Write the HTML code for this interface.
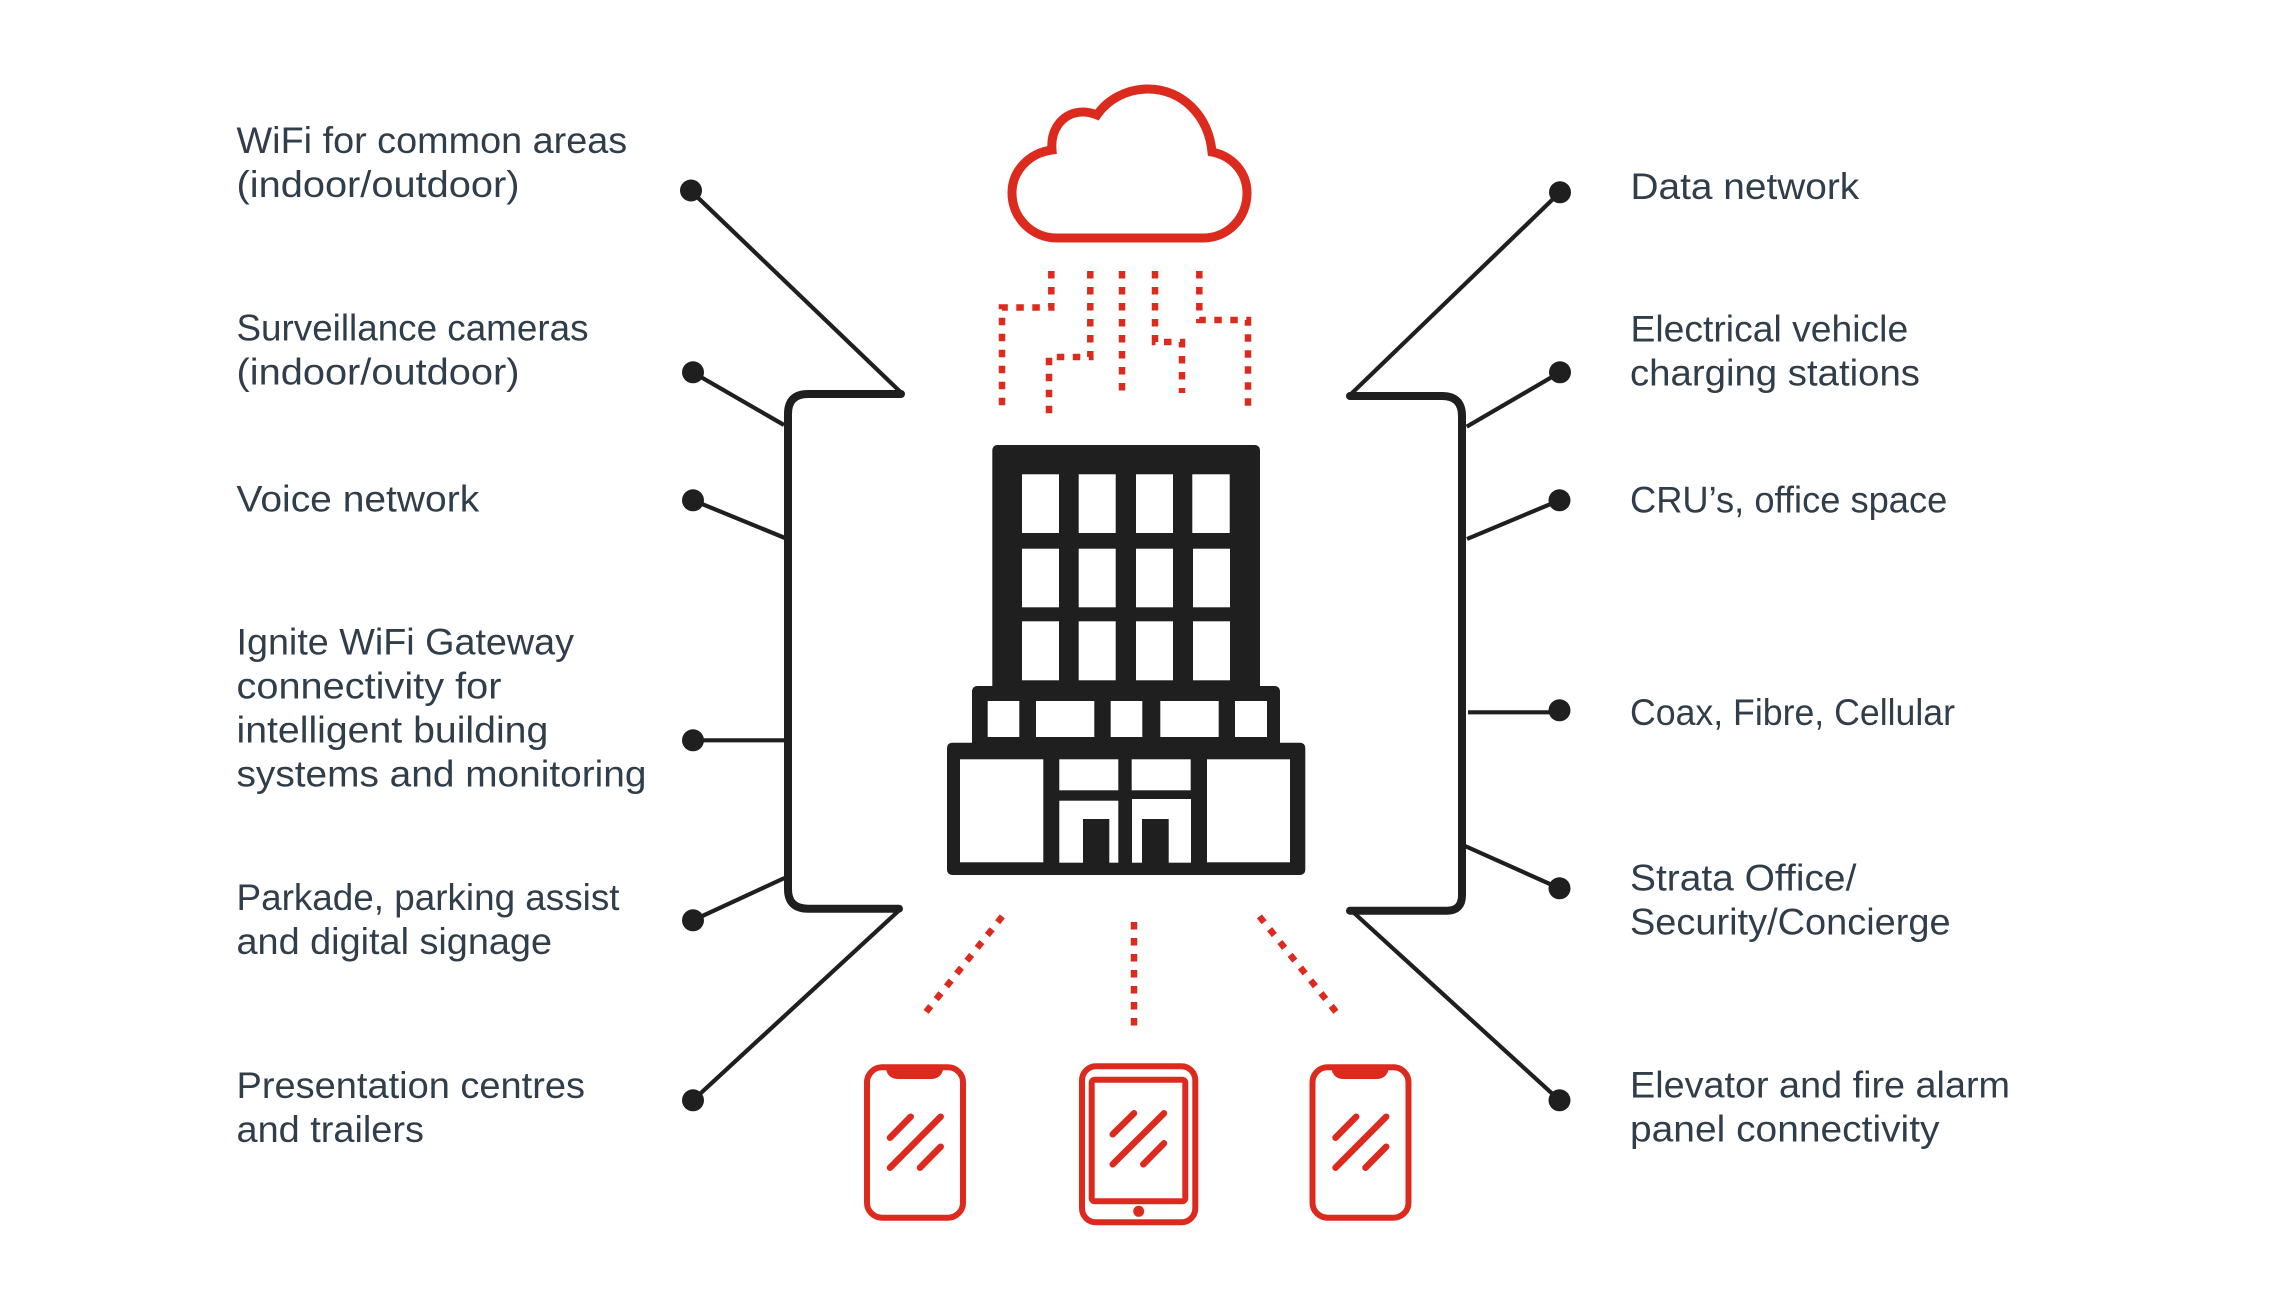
<!DOCTYPE html>
<html lang="en">
<head>
<meta charset="utf-8">
<title>Building connectivity diagram</title>
<style>
html,body{margin:0;padding:0;background:#fff}
svg{display:block}
text{font-family:"Liberation Sans",Arial,sans-serif;font-size:37px;fill:#2f3e4a}
.dot{fill:none;stroke:#dc2a1f;stroke-width:6.5;stroke-dasharray:7.5 8.5}
.k{stroke:#1f1f1f;stroke-width:4.2;fill:none}
.br{stroke:#1f1f1f;stroke-width:8;fill:none;stroke-linecap:round}
.r{fill:none;stroke:#dc2a1f;stroke-width:6}
.g{stroke:#dc2a1f;stroke-width:6.5;stroke-linecap:round;fill:none}
</style>
</head>
<body>
<svg width="2280" height="1308" viewBox="0 0 2280 1308" xmlns="http://www.w3.org/2000/svg">
<rect width="2280" height="1308" fill="#fff"/>

<!-- Cloud -->
<path d="M1057 238H1203C1228 238 1247 218 1247 193C1247 172 1232 156 1212 152C1209 116 1182 89 1148 89C1127 89 1108 99 1097 115C1092 113 1088 112 1083 112C1064 112 1050 128 1052 150C1029 153 1012 171 1012 193C1012 218 1032 238 1057 238Z" fill="none" stroke="#dc2a1f" stroke-width="9"/>

<!-- Cloud dotted links -->
<path class="dot" d="M1051.3 271V307.5H1002V406"/>
<path class="dot" d="M1090.3 271V357H1049V414"/>
<path class="dot" d="M1122 271V391"/>
<path class="dot" d="M1155 271V342H1182V393"/>
<path class="dot" d="M1199.3 271V320H1248V406"/>

<!-- Device dotted links -->
<path class="dot" style="stroke-dasharray:7.5 8.9" d="M1002.3 916.4L926.1 1011.9"/>
<path class="dot" d="M1134 922V1027"/>
<path class="dot" style="stroke-dasharray:7.5 8.9" d="M1259.4 916.4L1336 1011.9"/>

<!-- Building -->
<g fill="#1f1f1f">
<rect x="992.3" y="445" width="267.7" height="250" rx="5"/>
<rect x="972" y="686" width="308" height="70" rx="5"/>
<rect x="947" y="742.7" width="358.3" height="132.3" rx="5"/>
</g>
<g fill="#fff">
<rect x="1022" y="474.3" width="37" height="58.7"/><rect x="1078.7" y="474.3" width="37" height="58.7"/><rect x="1136" y="474.3" width="37" height="58.7"/><rect x="1192.3" y="474.3" width="37.4" height="58.7"/>
<rect x="1022" y="548.7" width="37" height="58.6"/><rect x="1078.7" y="548.7" width="37" height="58.6"/><rect x="1136" y="548.7" width="37" height="58.6"/><rect x="1193" y="548.7" width="37" height="58.6"/>
<rect x="1022" y="621.3" width="37" height="59"/><rect x="1078.7" y="621.3" width="37" height="59"/><rect x="1136" y="621.3" width="37" height="59"/><rect x="1193" y="621.3" width="37" height="59"/>
<rect x="987.7" y="701" width="31.6" height="36"/><rect x="1036" y="701" width="58.3" height="36"/><rect x="1110.7" y="701" width="31.6" height="36"/><rect x="1160.3" y="701" width="58.4" height="36"/><rect x="1235" y="701" width="32" height="36"/>
<rect x="960" y="759.3" width="83.3" height="103"/><rect x="1207" y="759.3" width="83" height="103"/>
<rect x="1059.3" y="759.3" width="59" height="31"/><rect x="1131.7" y="759.3" width="59" height="31"/>
<rect x="1059.3" y="800.7" width="59" height="62"/><rect x="1132" y="799" width="59" height="63.7"/>
</g>
<g fill="#1f1f1f">
<rect x="1083" y="819" width="26.3" height="44"/><rect x="1142" y="819" width="26.7" height="44"/>
</g>

<!-- Bracket outline -->
<path class="br" d="M901 394H808Q788 394 788 414V889Q788 908.7 808 908.7H899"/>
<path class="br" d="M1350 396H1442Q1462 396 1462 416V895Q1462 910.7 1447 910.7H1350"/>

<!-- Connectors left -->
<g class="k">
<path d="M690.7 190.7L901 392.5"/>
<path d="M692.7 372.3L784 425"/>
<path d="M693 500.3L785 538"/>
<path d="M693 740.3H785"/>
<path d="M693 920.3L784.5 878"/>
<path d="M693 1100.3L899.5 910"/>
</g>
<g fill="#1f1f1f">
<circle cx="691" cy="190.5" r="11"/>
<circle cx="693" cy="372.3" r="11"/>
<circle cx="693" cy="500.3" r="11"/>
<circle cx="693" cy="740.3" r="11"/>
<circle cx="693" cy="920.3" r="11"/>
<circle cx="693" cy="1100.3" r="11"/>
</g>

<!-- Connectors right -->
<g class="k">
<path d="M1560 192.3L1350 395"/>
<path d="M1560 372.3L1466.7 426.7"/>
<path d="M1559.5 500.3L1467 539"/>
<path d="M1559.5 712.3H1468"/>
<path d="M1559.5 888.3L1465 846"/>
<path d="M1559.5 1100.3L1353 912"/>
</g>
<g fill="#1f1f1f">
<circle cx="1560" cy="192.3" r="11"/>
<circle cx="1560" cy="372.3" r="11"/>
<circle cx="1559.5" cy="500.3" r="11"/>
<circle cx="1559.5" cy="710.3" r="11"/>
<circle cx="1559.5" cy="888.3" r="11"/>
<circle cx="1559.5" cy="1100.3" r="11"/>
</g>

<!-- Left phone -->
<rect class="r" x="867" y="1067.3" width="96" height="150.4" rx="15"/>
<path d="M886 1066H943.3V1069Q941 1079 931 1079H898Q888 1079 886 1069Z" fill="#dc2a1f"/>
<path class="g" d="M910.7 1116.7L890 1137.7M940.7 1116.7L890 1167.7M940.7 1146.7L920 1167.7"/>

<!-- Tablet -->
<rect class="r" x="1082" y="1066.3" width="113.3" height="156" rx="14"/>
<rect class="r" x="1091.7" y="1079.7" width="93.6" height="121.6" rx="3"/>
<circle cx="1138.7" cy="1211.3" r="5.5" fill="#dc2a1f"/>
<path class="g" d="M1134 1113.3L1112.7 1134.3M1164 1113.3L1112.7 1164.3M1164 1143.3L1143.3 1164.3"/>

<!-- Right phone -->
<g transform="translate(445.5 0)">
<rect class="r" x="867" y="1067.3" width="96" height="150.4" rx="15"/>
<path d="M886 1066H943.3V1069Q941 1079 931 1079H898Q888 1079 886 1069Z" fill="#dc2a1f"/>
<path class="g" d="M910.7 1116.7L890 1137.7M940.7 1116.7L890 1167.7M940.7 1146.7L920 1167.7"/>
</g>

<!-- Left labels -->
<text x="236.5" y="153" textLength="390.7" lengthAdjust="spacingAndGlyphs">WiFi for common areas</text>
<text x="236.5" y="197" textLength="283" lengthAdjust="spacingAndGlyphs">(indoor/outdoor)</text>
<text x="236.5" y="340.6" textLength="352" lengthAdjust="spacingAndGlyphs">Surveillance cameras</text>
<text x="236.5" y="384.6" textLength="283" lengthAdjust="spacingAndGlyphs">(indoor/outdoor)</text>
<text x="236.5" y="511.3" textLength="242.7" lengthAdjust="spacingAndGlyphs">Voice network</text>
<text x="236.5" y="654.6" textLength="337.5" lengthAdjust="spacingAndGlyphs">Ignite WiFi Gateway</text>
<text x="236.5" y="698.6" textLength="265" lengthAdjust="spacingAndGlyphs">connectivity for</text>
<text x="236.5" y="742.6" textLength="311.8" lengthAdjust="spacingAndGlyphs">intelligent building</text>
<text x="236.5" y="786.6" textLength="410" lengthAdjust="spacingAndGlyphs">systems and monitoring</text>
<text x="236.5" y="910" textLength="383" lengthAdjust="spacingAndGlyphs">Parkade, parking assist</text>
<text x="236.5" y="954" textLength="315.5" lengthAdjust="spacingAndGlyphs">and digital signage</text>
<text x="236.5" y="1098" textLength="348.5" lengthAdjust="spacingAndGlyphs">Presentation centres</text>
<text x="236.5" y="1142" textLength="187.4" lengthAdjust="spacingAndGlyphs">and trailers</text>

<!-- Right labels -->
<text x="1630.5" y="199" textLength="228.7" lengthAdjust="spacingAndGlyphs">Data network</text>
<text x="1630.5" y="341.3" textLength="277.7" lengthAdjust="spacingAndGlyphs">Electrical vehicle</text>
<text x="1630" y="385.3" textLength="290" lengthAdjust="spacingAndGlyphs">charging stations</text>
<text x="1630" y="512.6" textLength="317.3" lengthAdjust="spacingAndGlyphs">CRU’s, office space</text>
<text x="1630" y="725" textLength="325" lengthAdjust="spacingAndGlyphs">Coax, Fibre, Cellular</text>
<text x="1630" y="890.6" textLength="226.4" lengthAdjust="spacingAndGlyphs">Strata Office/</text>
<text x="1630" y="934.6" textLength="320.6" lengthAdjust="spacingAndGlyphs">Security/Concierge</text>
<text x="1630" y="1097.3" textLength="380" lengthAdjust="spacingAndGlyphs">Elevator and fire alarm</text>
<text x="1630" y="1141.3" textLength="309.5" lengthAdjust="spacingAndGlyphs">panel connectivity</text>
</svg>
</body>
</html>
